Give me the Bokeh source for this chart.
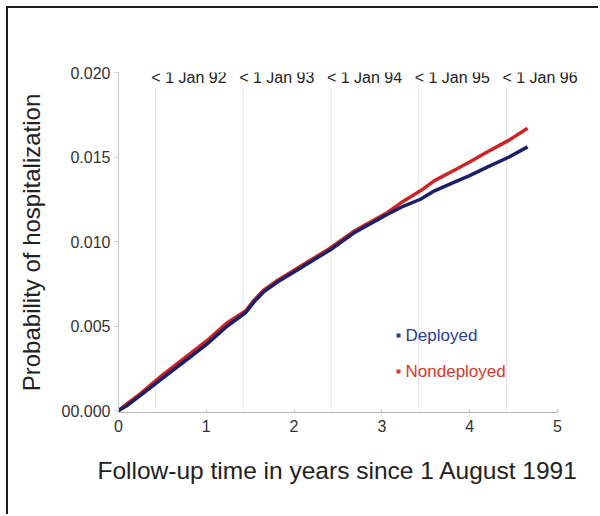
from bokeh.plotting import figure
from bokeh.models import Range1d, FixedTicker, ColumnDataSource, LabelSet, Title
from bokeh.core.properties import value
from bokeh.embed import file_html
from bokeh.resources import INLINE

# ---- data ----
years_dep = [0.0, 0.1, 0.25, 0.5, 0.75, 1.0, 1.24, 1.45, 1.54, 1.65, 1.81, 2.0, 2.19, 2.41,
             2.68, 3.06, 3.25, 3.44, 3.6, 3.82, 4.0, 4.2, 4.45, 4.66]
prob_dep = [0.0, 0.0003, 0.0009, 0.0019, 0.0029, 0.0039, 0.0050, 0.0058, 0.0064, 0.0070, 0.0076,
            0.0082, 0.0088, 0.0095, 0.0105, 0.0116, 0.0121, 0.0125, 0.0130, 0.0135, 0.0139,
            0.0144, 0.0150, 0.0156]
years_non = [0.0, 0.1, 0.25, 0.5, 0.75, 1.0, 1.24, 1.45, 1.54, 1.65, 1.81, 2.0, 2.19, 2.41,
             2.68, 3.06, 3.25, 3.44, 3.6, 3.82, 4.0, 4.2, 4.45, 4.66]
prob_non = [0.0, 0.0004, 0.0010, 0.0021, 0.0031, 0.0041, 0.0052, 0.0059, 0.0065, 0.0071, 0.0077,
            0.0083, 0.0089, 0.0096, 0.0106, 0.0117, 0.0124, 0.0130, 0.0136, 0.0142, 0.0147,
            0.0153, 0.0160, 0.0167]

x_ticks = [0, 1, 2, 3, 4, 5]
y_ticks = [0.0, 0.005, 0.010, 0.015, 0.020]
y_tick_labels = ["00.000", "0.005", "0.010", "0.015", "0.020"]

period_starts = [0.42, 1.42, 2.42, 3.42, 4.42]
period_labels = ["< 1 Jan 92", "< 1 Jan 93", "< 1 Jan 94", "< 1 Jan 95", "< 1 Jan 96"]

legend_labels = ["Deployed", "Nondeployed"]
BLUE_LINE = "#1c1f6b"
RED_LINE = "#cc2424"
BLUE_TEXT = "#2b3c96"
RED_TEXT = "#d8382a"
FONT = "Liberation Sans, Arial, sans-serif"

p = figure(width=592, height=508, output_backend="svg", toolbar_location=None,
           x_range=Range1d(0, 5.4), y_range=Range1d(-0.000118, 0.020),
           min_border_left=110, min_border_right=8, min_border_top=64, min_border_bottom=104)
p.styles = {"margin-left": "6px", "margin-top": "6px",
            "border-left": "2px solid #1e1e1e", "border-top": "2px solid #1e1e1e"}
p.outline_line_color = None
p.background_fill_color = "white"
p.border_fill_color = "white"
p.grid.visible = False

# vertical period lines
p.segment(x0=period_starts, y0=[0.0] * len(period_starts), x1=period_starts,
          y1=[0.0191] * len(period_starts), line_color="#e4e4e4", line_width=1)

# curves
p.line(years_non, prob_non, line_color=RED_LINE, line_width=3.5, line_join="round")
p.line(years_dep, prob_dep, line_color=BLUE_LINE, line_width=3.5, line_join="round")

# period labels
src = ColumnDataSource(dict(x=period_starts, y=[0.0197] * len(period_starts), t=period_labels))
p.add_layout(LabelSet(x="x", y="y", text="t", source=src, x_offset=-4,
                      text_baseline="middle", text_align="left",
                      text_font=value(FONT), text_font_size="16px", text_color="#222222"))

# legend
p.scatter(x=[3.19, 3.19], y=[0.00444, 0.00231], marker="square", size=4,
          fill_color=[BLUE_TEXT, RED_TEXT], line_color=None)
p.text(x=[3.27, 3.27], y=[0.00444, 0.00231], text=legend_labels,
       text_color=[BLUE_TEXT, RED_TEXT], text_font=value(FONT), text_font_size="17px",
       text_baseline="middle", text_align="left")

# axes
xa = p.xaxis[0]
xa.ticker = FixedTicker(ticks=x_ticks)
xa.bounds = (0, 5)
xa.axis_line_color = "#b8b8b8"
xa.major_tick_line_color = "#b8b8b8"
xa.major_tick_in = 3
xa.major_tick_out = 0
xa.minor_tick_line_color = None
xa.major_label_standoff = 7
xa.major_label_text_font = FONT
xa.major_label_text_font_size = "16px"
xa.major_label_text_color = "#333333"

p.add_layout(Title(text="Follow-up time in years since 1 August 1991", align="left",
                   offset=-21, standoff=40, text_font=FONT, text_font_size="24.5px",
                   text_font_style="normal", text_color="#222222"), "below")

ya = p.yaxis[0]
ya.ticker = FixedTicker(ticks=y_ticks)
ya.major_label_overrides = {t: l for t, l in zip(y_ticks, y_tick_labels)}
ya.bounds = (0, 0.020)
ya.axis_line_color = "#cccccc"
ya.major_tick_line_color = "#cccccc"
ya.major_tick_in = 0
ya.major_tick_out = 4
ya.minor_tick_line_color = None
ya.major_label_standoff = 4
ya.major_label_text_font = FONT
ya.major_label_text_font_size = "16px"
ya.major_label_text_color = "#333333"
ya.axis_label = "Probability of hospitalization"
ya.axis_label_text_font = FONT
ya.axis_label_text_font_size = "24px"
ya.axis_label_text_font_style = "normal"
ya.axis_label_text_color = "#222222"
ya.axis_label_standoff = 14

open("out.html", "w").write(file_html(p, INLINE))
